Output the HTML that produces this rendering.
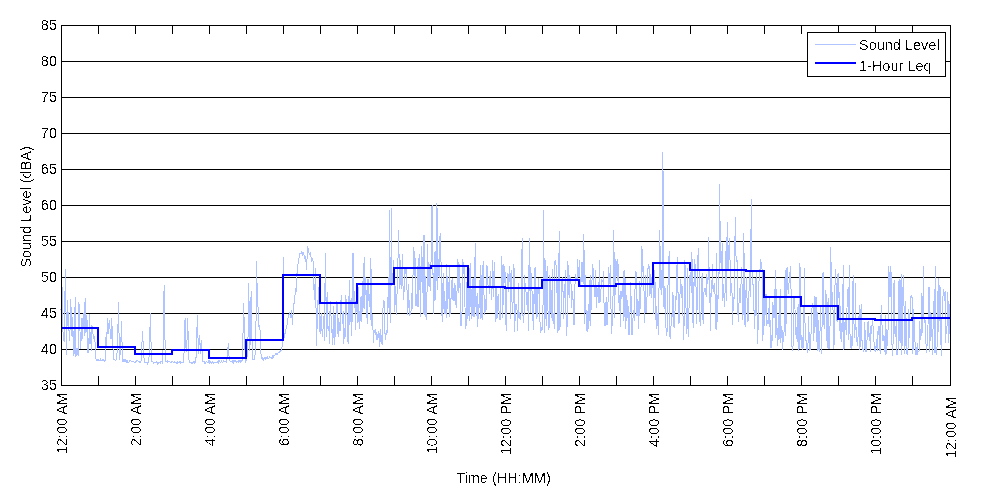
<!DOCTYPE html>
<html><head><meta charset="utf-8"><style>
html,body{margin:0;padding:0;background:#fff;width:1000px;height:500px;overflow:hidden}
svg{display:block;will-change:transform}
text{font-family:"Liberation Sans",sans-serif;font-size:14.5px;fill:#000}
</style></head><body>
<svg width="1000" height="500" viewBox="0 0 1000 500">
<defs><filter id="bin" filterUnits="userSpaceOnUse" x="0" y="0" width="1000" height="500" color-interpolation-filters="sRGB"><feComponentTransfer><feFuncA type="discrete" tableValues="0 0 0 1 1"/></feComponentTransfer></filter></defs>
<rect width="1000" height="500" fill="#fff"/>
<path d="M61 61.5H950M61 97.5H950M61 133.5H950M61 169.5H950M61 205.5H950M61 241.5H950M61 277.5H950M61 313.5H950M61 349.5H950" stroke="#000" stroke-width="1" shape-rendering="crispEdges"/>
<polyline points="61.00,309.8 61.62,287.9 62.23,286.7 62.85,330.3 63.47,335.5 64.09,342.1 64.70,313.4 65.32,269.0 65.94,307.1 66.56,355.2 67.17,299.9 67.79,326.2 68.41,312.5 69.03,331.4 69.64,341.1 70.26,322.9 70.88,299.0 71.50,333.4 72.11,336.7 72.73,317.0 73.35,348.1 73.96,355.8 74.58,331.7 75.20,297.0 75.82,356.6 76.43,353.5 77.05,347.8 77.67,354.3 78.29,356.1 78.90,302.0 79.52,314.7 80.14,335.5 80.76,348.8 81.37,329.2 81.99,317.8 82.61,338.5 83.22,324.0 83.84,312.9 84.46,335.8 85.08,298.0 85.69,332.9 86.31,331.2 86.93,315.5 87.55,353.3 88.16,351.8 88.78,353.2 89.40,314.0 90.02,344.0 90.63,331.7 91.25,351.1 91.87,325.2 92.49,329.6 93.10,334.6 93.72,338.0 94.34,337.2 94.95,339.9 95.57,357.2 96.19,359.4 96.81,360.4 97.42,360.6 98.04,359.6 98.66,360.2 99.28,360.5 99.89,360.2 100.51,359.2 101.13,361.1 101.75,360.3 102.36,360.0 102.98,360.6 103.60,359.6 104.22,361.5 104.83,360.2 105.45,360.7 106.07,334.7 106.68,348.1 107.30,318.0 107.92,334.0 108.54,332.2 109.15,320.0 109.77,325.0 110.39,335.5 111.01,339.1 111.62,318.0 112.24,329.9 112.86,346.5 113.48,358.7 114.09,360.2 114.71,359.3 115.33,360.3 115.95,360.4 116.56,359.4 117.18,350.7 117.80,335.6 118.41,302.0 119.03,333.0 119.65,359.6 120.27,352.5 120.88,341.2 121.50,321.0 122.12,346.3 122.74,360.6 123.35,359.9 123.97,361.8 124.59,360.4 125.21,361.5 125.82,359.8 126.44,361.7 127.06,360.5 127.67,362.1 128.29,362.6 128.91,362.2 129.53,360.4 130.14,360.6 130.76,360.7 131.38,362.0 132.00,361.8 132.61,361.6 133.23,361.8 133.85,362.1 134.47,362.2 135.08,363.0 135.70,361.7 136.32,361.9 136.94,360.3 137.55,360.8 138.17,361.3 138.79,361.0 139.40,362.1 140.02,362.8 140.64,361.7 141.26,360.4 141.87,344.8 142.49,331.0 143.11,342.2 143.73,353.8 144.34,362.3 144.96,362.3 145.58,362.7 146.20,362.1 146.81,362.2 147.43,363.5 148.05,362.0 148.67,362.7 149.28,353.1 149.90,330.4 150.52,313.0 151.13,349.1 151.75,361.7 152.37,361.6 152.99,361.8 153.60,363.1 154.22,362.0 154.84,363.0 155.46,362.3 156.07,362.8 156.69,361.6 157.31,362.3 157.93,364.3 158.54,362.8 159.16,363.0 159.78,362.3 160.40,362.9 161.01,361.2 161.63,361.5 162.25,362.5 162.86,358.1 163.48,325.3 164.10,285.0 164.72,327.6 165.33,354.5 165.95,361.2 166.57,361.1 167.19,362.2 167.80,360.8 168.42,361.4 169.04,361.7 169.66,361.4 170.27,362.4 170.89,361.9 171.51,362.2 172.12,361.4 172.74,361.7 173.36,362.7 173.98,362.6 174.59,361.9 175.21,362.6 175.83,362.4 176.45,362.4 177.06,363.6 177.68,362.0 178.30,362.6 178.92,362.6 179.53,362.1 180.15,361.4 180.77,362.9 181.39,362.5 182.00,362.4 182.62,362.3 183.24,362.3 183.85,359.3 184.47,334.6 185.09,318.0 185.71,344.1 186.32,351.9 186.94,342.6 187.56,318.0 188.18,335.5 188.79,358.6 189.41,362.8 190.03,362.2 190.65,362.1 191.26,362.1 191.88,363.6 192.50,362.9 193.12,362.8 193.73,361.5 194.35,362.9 194.97,361.4 195.58,362.8 196.20,355.3 196.82,333.0 197.44,315.0 198.05,339.0 198.67,354.3 199.29,335.0 199.91,343.6 200.52,353.6 201.14,340.0 201.76,347.5 202.38,356.8 202.99,361.4 203.61,361.5 204.23,361.8 204.85,363.8 205.46,362.4 206.08,362.1 206.70,361.9 207.31,362.7 207.93,362.7 208.55,361.4 209.17,363.3 209.78,361.2 210.40,361.9 211.02,362.4 211.64,363.4 212.25,361.7 212.87,362.2 213.49,363.0 214.11,362.5 214.72,362.8 215.34,362.7 215.96,362.1 216.57,362.4 217.19,362.6 217.81,361.8 218.43,363.1 219.04,360.2 219.66,361.0 220.28,362.9 220.90,362.1 221.51,361.2 222.13,362.0 222.75,362.5 223.37,361.2 223.98,362.2 224.60,361.5 225.22,361.5 225.84,361.5 226.45,362.4 227.07,358.5 227.69,352.5 228.30,343.0 228.92,355.2 229.54,358.1 230.16,361.9 230.77,361.4 231.39,361.2 232.01,361.4 232.63,360.5 233.24,363.6 233.86,360.5 234.48,360.9 235.10,360.1 235.71,360.9 236.33,362.4 236.95,361.2 237.57,361.6 238.18,360.7 238.80,362.5 239.42,361.2 240.03,360.1 240.65,361.6 241.27,360.7 241.89,361.5 242.50,357.8 243.12,328.6 243.74,303.0 244.36,334.4 244.97,349.8 245.59,361.5 246.21,360.5 246.83,360.8 247.44,347.2 248.06,336.6 248.68,283.0 249.30,316.5 249.91,350.7 250.53,317.5 251.15,291.0 251.76,336.0 252.38,342.7 253.00,359.7 253.62,359.8 254.23,359.3 254.85,359.2 255.47,344.3 256.09,317.9 256.70,261.0 257.32,303.2 257.94,306.0 258.56,316.9 259.17,330.4 259.79,325.0 260.41,337.9 261.02,354.2 261.64,358.2 262.26,359.4 262.88,357.9 263.49,359.7 264.11,358.5 264.73,357.2 265.35,358.1 265.96,359.6 266.58,357.3 267.20,356.9 267.82,358.2 268.43,358.7 269.05,358.3 269.67,357.1 270.29,357.4 270.90,357.4 271.52,358.0 272.14,358.6 272.75,356.4 273.37,357.1 273.99,355.4 274.61,355.8 275.22,354.2 275.84,353.9 276.46,354.5 277.08,353.1 277.69,354.1 278.31,352.6 278.93,352.7 279.55,352.2 280.16,351.4 280.78,350.7 281.40,350.5 281.70,349.6 282.40,344.0 283.40,257.4 284.00,338.0 285.60,331.0 287.00,325.0 288.00,318.0 289.50,312.0 290.50,318.0 291.50,310.0 292.50,325.0 293.40,308.0 294.50,300.0 295.80,288.0 296.50,292.0 297.00,273.6 297.60,270.0 298.20,261.6 299.00,258.0 300.00,253.2 301.00,254.0 301.80,251.4 302.50,255.0 303.60,252.0 304.50,258.0 305.40,256.8 306.00,262.0 306.60,270.0 307.50,246.0 308.40,250.0 309.30,255.0 310.20,252.0 310.80,255.6 311.70,262.0 312.60,259.0 313.20,261.6 314.00,290.0 314.60,300.0 315.40,268.0 316.20,320.0 316.80,345.7 317.40,300.0 317.82,313.5 318.44,287.4 319.06,299.9 319.67,332.3 320.29,315.6 320.91,334.4 321.53,312.9 322.14,333.6 322.76,337.1 323.38,316.7 324.00,316.0 324.61,340.7 325.23,253.0 325.85,287.6 326.47,336.9 327.08,291.9 327.70,326.7 328.32,331.3 328.93,325.8 329.55,344.0 330.17,301.0 330.79,306.2 331.40,332.9 332.02,329.0 332.64,344.8 333.26,334.2 333.87,306.4 334.49,344.6 335.11,335.9 335.73,322.3 336.34,304.7 336.96,300.7 337.58,325.8 338.20,336.8 338.81,317.9 339.43,329.4 340.05,330.8 340.66,307.2 341.28,295.0 341.90,311.1 342.52,323.5 343.13,311.4 343.75,344.4 344.37,328.2 344.99,339.2 345.60,295.3 346.22,300.5 346.84,311.8 347.46,321.2 348.07,344.4 348.69,313.7 349.31,280.0 349.93,325.2 350.54,303.8 351.16,298.4 351.78,336.3 352.39,298.7 353.01,253.0 353.63,298.5 354.25,307.6 354.86,290.8 355.48,330.3 356.10,309.0 356.72,283.1 357.33,323.3 357.95,284.1 358.57,306.1 359.19,328.9 359.80,311.3 360.42,321.0 361.04,296.5 361.65,322.0 362.27,281.1 362.89,312.2 363.51,293.2 364.12,257.0 364.74,309.2 365.36,276.6 365.98,288.7 366.59,306.3 367.21,323.9 367.83,279.8 368.45,279.5 369.06,302.5 369.68,293.8 370.30,319.7 370.92,258.0 371.53,326.3 372.15,314.5 372.77,322.2 373.38,342.6 374.00,332.7 374.62,330.5 375.24,334.8 375.85,329.4 376.47,338.8 377.09,339.5 377.71,334.1 378.32,337.8 378.94,331.3 379.56,347.3 380.18,329.0 380.79,342.0 381.41,335.4 382.03,344.6 382.65,317.5 383.26,302.5 383.88,300.9 384.50,301.7 385.11,339.7 385.73,336.0 386.35,329.7 386.97,334.8 387.58,296.6 388.20,304.4 388.82,308.0 389.44,210.0 390.05,321.1 390.67,321.9 391.29,208.0 391.91,285.8 392.52,279.5 393.14,270.7 393.76,260.3 394.38,311.7 394.99,305.5 395.61,286.5 396.23,314.8 396.84,305.5 397.46,265.0 398.08,257.5 398.70,230.0 399.31,277.0 399.93,289.0 400.55,260.0 401.17,289.0 401.78,276.2 402.40,254.1 403.02,286.5 403.64,300.2 404.25,287.4 404.87,268.4 405.49,267.6 406.10,275.6 406.72,266.8 407.34,314.7 407.96,310.0 408.57,284.3 409.19,305.9 409.81,314.9 410.43,314.7 411.04,310.6 411.66,293.4 412.28,308.5 412.90,281.2 413.51,246.9 414.13,276.1 414.75,251.2 415.37,266.4 415.98,306.3 416.60,293.7 417.22,307.3 417.83,266.0 418.45,306.6 419.07,253.8 419.69,259.9 420.30,316.6 420.92,269.2 421.54,246.4 422.16,293.1 422.77,257.5 423.39,314.1 424.01,235.0 424.63,314.5 425.24,276.0 425.86,315.5 426.48,320.2 427.10,286.8 427.71,244.3 428.33,286.1 428.95,262.2 429.56,275.5 430.18,290.5 430.80,269.0 431.42,250.3 432.03,205.0 432.65,274.6 433.27,274.1 433.89,314.2 434.50,257.2 435.12,250.8 435.74,299.5 436.36,255.5 436.97,203.0 437.59,290.0 438.21,258.6 438.82,275.6 439.44,278.3 440.06,233.0 440.68,259.4 441.29,264.5 441.91,315.1 442.53,322.1 443.15,272.9 443.76,308.6 444.38,291.0 445.00,314.2 445.62,300.7 446.23,318.3 446.85,264.0 447.47,308.6 448.09,298.0 448.70,297.4 449.32,267.1 449.94,316.5 450.55,298.3 451.17,298.2 451.79,280.4 452.41,278.5 453.02,300.6 453.64,287.9 454.26,300.5 454.88,282.6 455.49,292.9 456.11,307.9 456.73,296.5 457.35,284.6 457.96,259.1 458.58,293.4 459.20,285.5 459.82,264.2 460.43,323.9 461.05,325.9 461.67,322.7 462.28,303.7 462.90,259.3 463.52,273.8 464.14,265.9 464.75,292.0 465.37,327.6 465.99,328.3 466.61,282.3 467.22,286.6 467.84,319.3 468.46,273.8 469.08,321.1 469.69,274.0 470.31,263.4 470.93,304.5 471.55,319.1 472.16,279.3 472.78,315.7 473.40,278.0 474.01,317.3 474.63,279.6 475.25,243.0 475.87,303.8 476.48,316.1 477.10,293.1 477.72,326.9 478.34,310.0 478.95,307.2 479.57,280.3 480.19,319.2 480.81,264.9 481.42,294.8 482.04,319.5 482.66,269.2 483.27,261.5 483.89,289.7 484.51,314.7 485.13,298.7 485.74,312.2 486.36,306.2 486.98,265.2 487.60,278.1 488.21,287.6 488.83,284.7 489.45,294.4 490.07,274.9 490.68,271.4 491.30,299.8 491.92,294.0 492.54,259.7 493.15,274.7 493.77,297.0 494.39,261.6 495.00,286.4 495.62,322.1 496.24,285.6 496.86,318.8 497.47,315.9 498.09,293.7 498.71,301.8 499.33,319.9 499.94,318.6 500.56,319.3 501.18,274.8 501.80,256.0 502.41,317.9 503.03,263.7 503.65,304.9 504.27,268.0 504.88,266.3 505.50,295.3 506.12,331.1 506.73,295.1 507.35,281.3 507.97,273.1 508.59,291.8 509.20,270.6 509.82,265.9 510.44,319.0 511.06,270.1 511.67,287.8 512.29,312.6 512.91,310.7 513.53,263.8 514.14,268.6 514.76,331.6 515.38,304.9 516.00,303.8 516.61,304.4 517.23,313.3 517.85,331.4 518.46,283.3 519.08,319.3 519.70,312.3 520.32,316.3 520.93,319.7 521.55,282.1 522.17,238.0 522.79,312.5 523.40,322.8 524.02,314.8 524.64,275.5 525.26,288.5 525.87,288.4 526.49,303.7 527.11,304.7 527.73,291.7 528.34,331.1 528.96,266.9 529.58,238.0 530.19,313.2 530.81,267.5 531.43,283.1 532.05,291.9 532.66,310.5 533.28,329.6 533.90,299.8 534.52,268.3 535.13,313.2 535.75,267.3 536.37,318.0 536.99,318.6 537.60,287.0 538.22,294.1 538.84,277.6 539.45,311.9 540.07,323.2 540.69,332.8 541.31,329.4 541.92,326.9 542.54,330.2 543.16,297.1 543.78,210.0 544.39,333.1 545.01,259.7 545.63,307.7 546.25,326.2 546.86,272.5 547.48,266.2 548.10,318.4 548.72,329.9 549.33,326.2 549.95,274.8 550.57,300.3 551.18,317.7 551.80,302.0 552.42,269.4 553.04,323.7 553.65,312.8 554.27,328.6 554.89,261.5 555.51,259.8 556.12,266.4 556.74,292.9 557.36,279.1 557.98,332.7 558.59,300.1 559.21,231.0 559.83,329.8 560.45,321.7 561.06,311.6 561.68,284.6 562.30,276.9 562.91,285.7 563.53,318.5 564.15,283.6 564.77,297.6 565.38,269.7 566.00,314.6 566.62,335.6 567.24,322.3 567.85,261.4 568.47,275.5 569.09,297.6 569.71,275.1 570.32,279.4 570.94,281.3 571.56,307.6 572.17,297.1 572.79,291.5 573.41,312.8 574.03,325.3 574.64,300.0 575.26,273.7 575.88,276.0 576.50,279.8 577.11,280.4 577.73,258.7 578.35,276.7 578.97,269.3 579.58,260.1 580.20,283.9 580.82,287.2 581.44,270.7 582.05,261.6 582.67,279.1 583.29,283.7 583.90,234.5 584.52,324.2 585.14,275.0 585.76,299.1 586.37,331.1 586.99,310.1 587.61,331.8 588.23,327.1 588.84,303.9 589.46,320.7 590.08,275.0 590.70,326.0 591.31,296.7 591.93,282.1 592.55,264.4 593.17,268.6 593.78,284.0 594.40,291.9 595.02,297.3 595.63,270.2 596.25,308.2 596.87,285.1 597.49,296.9 598.10,290.2 598.72,302.5 599.34,260.5 599.96,303.2 600.57,291.0 601.19,288.1 601.81,279.3 602.43,281.3 603.04,282.4 603.66,270.9 604.28,325.9 604.90,303.4 605.51,325.8 606.13,297.3 606.75,324.4 607.36,324.6 607.98,304.9 608.60,267.1 609.22,275.5 609.83,284.3 610.45,265.1 611.07,313.6 611.69,334.3 612.30,318.6 612.92,308.9 613.54,229.6 614.16,259.4 614.77,318.4 615.39,259.6 616.01,260.8 616.62,268.4 617.24,280.6 617.86,258.9 618.48,281.2 619.09,306.4 619.71,294.9 620.33,327.2 620.95,291.3 621.56,298.7 622.18,288.2 622.80,285.4 623.42,320.9 624.03,270.4 624.65,317.1 625.27,278.0 625.89,328.5 626.50,294.6 627.12,317.5 627.74,300.1 628.35,314.6 628.97,335.0 629.59,330.1 630.21,303.7 630.82,281.7 631.44,327.4 632.06,335.4 632.68,327.4 633.29,309.9 633.91,315.9 634.53,320.7 635.15,279.7 635.76,270.8 636.38,273.3 637.00,316.3 637.62,299.0 638.23,302.7 638.85,329.0 639.47,281.4 640.08,291.3 640.70,309.0 641.32,267.3 641.94,246.0 642.55,271.5 643.17,266.2 643.79,272.6 644.41,323.1 645.02,313.2 645.64,274.9 646.26,313.0 646.88,299.4 647.49,286.7 648.11,265.0 648.73,264.1 649.35,268.9 649.96,295.6 650.58,274.1 651.20,278.6 651.81,297.8 652.43,267.0 653.05,277.5 653.67,313.5 654.28,270.2 654.90,298.1 655.52,281.6 656.14,328.9 656.75,305.7 657.37,322.5 657.99,325.5 658.61,335.3 659.22,263.1 659.84,230.0 660.46,289.8 661.08,270.0 661.69,294.5 662.31,283.1 662.93,152.0 663.54,299.1 664.16,309.3 664.78,286.2 665.40,290.3 666.01,328.4 666.63,335.8 667.25,330.0 667.87,285.2 668.48,283.5 669.10,251.5 669.72,335.2 670.34,338.8 670.95,327.7 671.57,313.9 672.19,317.4 672.80,291.6 673.42,301.6 674.04,327.8 674.66,326.3 675.27,300.2 675.89,296.1 676.51,299.7 677.13,257.5 677.74,292.2 678.36,293.1 678.98,323.8 679.60,313.9 680.21,285.6 680.83,279.0 681.45,298.2 682.07,285.6 682.68,293.0 683.30,335.4 683.92,339.5 684.53,260.4 685.15,266.6 685.77,290.7 686.39,333.0 687.00,331.9 687.62,267.9 688.24,337.1 688.86,318.1 689.47,274.7 690.09,285.9 690.71,271.6 691.33,293.0 691.94,252.2 692.56,309.5 693.18,327.9 693.80,293.7 694.41,258.9 695.03,285.9 695.65,263.9 696.26,301.9 696.88,323.9 697.50,262.4 698.12,253.6 698.73,248.0 699.35,293.7 699.97,322.0 700.59,325.8 701.20,306.5 701.82,276.9 702.44,273.3 703.06,324.0 703.67,293.0 704.29,290.6 704.91,287.8 705.52,290.6 706.14,296.6 706.76,273.7 707.38,282.7 707.99,281.5 708.61,237.5 709.23,281.4 709.85,291.6 710.46,331.3 711.08,287.6 711.70,297.2 712.32,264.3 712.93,288.9 713.55,292.2 714.17,283.1 714.79,288.3 715.40,302.7 716.02,329.6 716.64,252.8 717.25,322.4 717.87,307.1 718.49,272.5 719.11,273.8 719.72,184.0 720.34,262.8 720.96,252.6 721.58,270.7 722.19,243.5 722.81,301.3 723.43,283.8 724.05,298.9 724.66,307.1 725.28,283.1 725.90,251.2 726.52,301.2 727.13,222.0 727.75,270.7 728.37,268.0 728.98,245.2 729.60,238.0 730.22,271.9 730.84,295.7 731.45,283.2 732.07,293.6 732.69,325.0 733.31,298.3 733.92,297.4 734.54,299.2 735.16,217.0 735.78,251.8 736.39,262.0 737.01,259.6 737.63,303.9 738.25,322.4 738.86,308.1 739.48,288.1 740.10,303.2 740.71,301.5 741.33,266.6 741.95,278.7 742.57,319.9 743.18,313.1 743.80,233.0 744.42,294.4 745.04,326.5 745.65,308.8 746.27,277.0 746.89,291.6 747.51,322.0 748.12,320.2 748.74,298.5 749.36,282.4 749.98,270.1 750.59,297.3 751.21,199.0 751.83,266.4 752.44,283.4 753.06,284.6 753.68,288.5 754.30,329.4 754.91,319.5 755.53,298.8 756.15,272.0 756.77,296.1 757.38,344.2 758.00,331.3 758.62,301.1 759.24,269.0 759.85,277.1 760.47,259.5 761.09,262.8 761.70,265.1 762.32,272.1 762.94,340.7 763.56,290.6 764.17,287.7 764.79,325.8 765.41,294.9 766.03,294.7 766.64,325.5 767.26,320.3 767.88,323.9 768.50,307.6 769.11,326.8 769.73,297.0 770.35,347.6 770.97,333.9 771.58,347.7 772.20,338.4 772.82,301.7 773.43,311.2 774.05,317.9 774.67,312.9 775.29,269.6 775.90,337.9 776.52,289.0 777.14,346.0 777.76,337.1 778.37,314.8 778.99,339.5 779.61,314.2 780.23,289.2 780.84,343.0 781.46,325.6 782.08,330.1 782.70,349.5 783.31,334.5 783.93,341.4 784.55,278.0 785.16,336.1 785.78,270.5 786.40,324.2 787.02,267.0 787.63,284.5 788.25,293.5 788.87,284.2 789.49,280.1 790.10,270.1 790.72,266.1 791.34,315.0 791.96,346.8 792.57,351.2 793.19,343.6 793.81,296.7 794.42,299.4 795.04,309.9 795.66,328.5 796.28,339.1 796.89,332.2 797.51,306.9 798.13,350.5 798.75,303.9 799.36,349.0 799.98,263.0 800.60,340.2 801.22,335.4 801.83,347.3 802.45,349.5 803.07,335.8 803.69,348.0 804.30,267.6 804.92,319.5 805.54,339.9 806.15,340.7 806.77,348.7 807.39,352.7 808.01,343.4 808.62,316.3 809.24,351.0 809.86,331.6 810.48,349.8 811.09,332.0 811.71,311.8 812.33,303.1 812.95,303.4 813.56,340.6 814.18,296.5 814.80,333.2 815.42,313.5 816.03,297.1 816.65,329.4 817.27,351.1 817.88,312.2 818.50,349.0 819.12,349.7 819.74,351.5 820.35,304.8 820.97,326.8 821.59,353.6 822.21,315.1 822.82,273.5 823.44,272.8 824.06,328.9 824.68,323.0 825.29,306.0 825.91,290.4 826.53,316.2 827.15,348.1 827.76,304.7 828.38,298.4 829.00,349.1 829.61,341.0 830.23,318.9 830.85,247.0 831.47,304.7 832.08,291.9 832.70,297.7 833.32,322.7 833.94,349.2 834.55,311.0 835.17,277.3 835.79,269.0 836.41,307.9 837.02,321.5 837.64,277.0 838.26,272.6 838.88,297.8 839.49,292.1 840.11,339.3 840.73,305.7 841.34,341.9 841.96,332.0 842.58,328.8 843.20,264.7 843.81,349.9 844.43,347.8 845.05,320.1 845.67,324.4 846.28,335.0 846.90,310.2 847.52,295.2 848.14,287.4 848.75,339.7 849.37,264.7 849.99,333.8 850.60,345.0 851.22,349.4 851.84,336.4 852.46,345.6 853.07,275.2 853.69,315.9 854.31,331.1 854.93,338.1 855.54,283.1 856.16,341.7 856.78,335.8 857.40,345.6 858.01,337.0 858.63,333.3 859.25,304.6 859.87,349.6 860.48,339.6 861.10,304.5 861.72,340.0 862.33,341.2 862.95,349.4 863.57,351.9 864.19,348.2 864.80,322.2 865.42,343.9 866.04,351.9 866.66,341.8 867.27,339.1 867.89,322.6 868.51,321.2 869.13,340.8 869.74,333.2 870.36,351.8 870.98,326.4 871.60,334.1 872.21,320.7 872.83,319.0 873.45,340.5 874.06,342.4 874.68,349.8 875.30,352.0 875.92,347.5 876.53,339.4 877.15,350.6 877.77,331.3 878.39,335.2 879.00,325.7 879.62,347.6 880.24,353.5 880.86,318.7 881.47,304.7 882.09,327.4 882.71,341.2 883.33,339.8 883.94,335.5 884.56,344.5 885.18,355.0 885.79,314.8 886.41,354.0 887.03,345.9 887.65,341.9 888.26,322.4 888.88,266.0 889.50,294.7 890.12,296.8 890.73,266.0 891.35,279.2 891.97,343.9 892.59,355.5 893.20,339.1 893.82,284.2 894.44,280.5 895.05,337.4 895.67,334.0 896.29,319.5 896.91,355.3 897.52,351.9 898.14,349.9 898.76,280.9 899.38,340.7 899.99,279.5 900.61,317.6 901.23,355.2 901.85,274.1 902.46,346.0 903.08,280.0 903.70,275.3 904.32,335.3 904.93,354.1 905.55,301.2 906.17,323.2 906.78,353.4 907.40,354.1 908.02,348.0 908.64,308.6 909.25,337.9 909.87,317.6 910.49,296.2 911.11,297.6 911.72,296.1 912.34,297.9 912.96,353.7 913.58,308.8 914.19,320.6 914.81,335.8 915.43,352.6 916.05,354.7 916.66,354.2 917.28,342.6 917.90,353.4 918.51,352.5 919.13,350.5 919.75,320.6 920.37,339.4 920.98,338.4 921.60,293.1 922.22,333.3 922.84,308.7 923.45,266.0 924.07,322.9 924.69,322.7 925.31,320.5 925.92,341.8 926.54,352.9 927.16,344.2 927.77,345.3 928.39,292.7 929.01,287.2 929.63,351.7 930.24,311.6 930.86,341.1 931.48,313.8 932.10,341.4 932.71,355.2 933.33,301.0 933.95,305.4 934.57,352.9 935.18,266.0 935.80,351.5 936.42,354.5 937.04,346.7 937.65,309.7 938.27,278.1 938.89,331.5 939.50,286.2 940.12,286.9 940.74,336.7 941.36,355.6 941.97,317.4 942.59,312.6 943.21,288.8 943.83,291.2 944.44,300.9 945.06,291.1 945.68,343.0 946.30,327.0 946.91,333.2 947.53,292.3 948.15,303.4 948.77,342.8 949.38,304.5 950.00,334.1" fill="none" stroke="#b0c4ff" stroke-width="1" shape-rendering="crispEdges"/>
<path d="M61 328H98V347H135V354H172V350H209V358H246V340H283V275H320V303H357V284H394V268H431V266H468V287H505V288H542V280H579V286H616V284H653V263H690V270H727V270H746V271H764V297H801V306H838V319H875V320H912V318H950" fill="none" stroke="#0000ff" stroke-width="2" shape-rendering="crispEdges"/>
<g stroke="#000" stroke-width="1" shape-rendering="crispEdges" fill="none">
<rect x="61.5" y="25.5" width="889" height="360"/>
<path d="M98.5 25V34M98.5 386V376M135.5 25V34M135.5 386V376M172.5 25V34M172.5 386V376M209.5 25V34M209.5 386V376M246.5 25V34M246.5 386V376M283.5 25V34M283.5 386V376M320.5 25V34M320.5 386V376M357.5 25V34M357.5 386V376M394.5 25V34M394.5 386V376M431.5 25V34M431.5 386V376M468.5 25V34M468.5 386V376M505.5 25V34M505.5 386V376M542.5 25V34M542.5 386V376M579.5 25V34M579.5 386V376M616.5 25V34M616.5 386V376M653.5 25V34M653.5 386V376M690.5 25V34M690.5 386V376M727.5 25V34M727.5 386V376M764.5 25V34M764.5 386V376M801.5 25V34M801.5 386V376M838.5 25V34M838.5 386V376M875.5 25V34M875.5 386V376M912.5 25V34M912.5 386V376"/>
</g>
<g shape-rendering="crispEdges">
<rect x="807.5" y="32.5" width="138" height="44" fill="#fff" stroke="#000" stroke-width="1"/>
<path d="M815 44.5H856" stroke="#b0c4ff" stroke-width="1"/>
<path d="M815 63H856" stroke="#0000ff" stroke-width="2"/>
</g>
<g filter="url(#bin)"><text transform="translate(57 30)" text-anchor="end">85</text><text transform="translate(57 66)" text-anchor="end">80</text><text transform="translate(57 102)" text-anchor="end">75</text><text transform="translate(57 138)" text-anchor="end">70</text><text transform="translate(57 174)" text-anchor="end">65</text><text transform="translate(57 210)" text-anchor="end">60</text><text transform="translate(57 246)" text-anchor="end">55</text><text transform="translate(57 282)" text-anchor="end">50</text><text transform="translate(57 318)" text-anchor="end">45</text><text transform="translate(57 354)" text-anchor="end">40</text><text transform="translate(57 390)" text-anchor="end">35</text><text transform="translate(503.5 483)" text-anchor="middle">Time (HH:MM)</text><text transform="translate(859 50)">Sound Level</text><text transform="translate(859 71)">1-Hour Leq</text></g>
<g filter="url(#bin)"><text transform="translate(67 393) rotate(-90)" text-anchor="end">12:00 AM</text><text transform="translate(141 393) rotate(-90)" text-anchor="end">2:00 AM</text><text transform="translate(215 393) rotate(-90)" text-anchor="end">4:00 AM</text><text transform="translate(289 393) rotate(-90)" text-anchor="end">6:00 AM</text><text transform="translate(363 393) rotate(-90)" text-anchor="end">8:00 AM</text><text transform="translate(437 393) rotate(-90)" text-anchor="end">10:00 AM</text><text transform="translate(511 393) rotate(-90)" text-anchor="end">12:00 PM</text><text transform="translate(585 393) rotate(-90)" text-anchor="end">2:00 PM</text><text transform="translate(659 393) rotate(-90)" text-anchor="end">4:00 PM</text><text transform="translate(733 393) rotate(-90)" text-anchor="end">6:00 PM</text><text transform="translate(807 393) rotate(-90)" text-anchor="end">8:00 PM</text><text transform="translate(881 393) rotate(-90)" text-anchor="end">10:00 PM</text><text transform="translate(956 397) rotate(-90)" text-anchor="end">12:00 AM</text><text transform="translate(31 207) rotate(-90)" text-anchor="middle">Sound Level (dBA)</text></g>
</svg></body></html>
